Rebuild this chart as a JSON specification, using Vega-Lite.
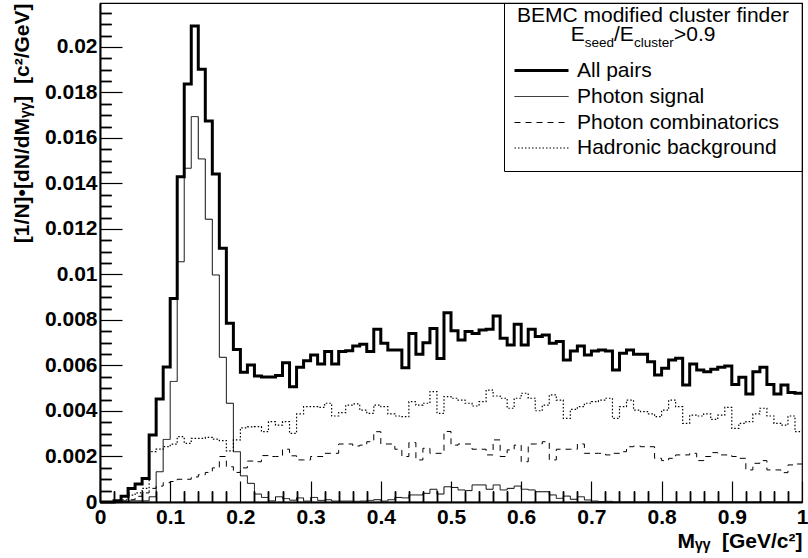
{
  "$schema": "https://vega.github.io/schema/vega-lite/v6.json",
  "width": 702,
  "height": 499,
  "autosize": "none",
  "padding": {"left": 100, "top": 3, "right": 6, "bottom": 56},
  "background": "white",
  "config": {
    "view": {"stroke": "black", "strokeWidth": 1.2},
    "font": "Liberation Sans"
  },
  "resolve": {"axis": {"x": "independent", "y": "independent"}},
  "datasets": {
    "hist": [
      {"m": 0.00, "All pairs": 0, "Photon signal": 0, "Photon combinatorics": 0, "Hadronic background": 0},
      {"m": 0.01, "All pairs": 0, "Photon signal": 0, "Photon combinatorics": 0, "Hadronic background": 0},
      {"m": 0.02, "All pairs": 0.00005, "Photon signal": 0, "Photon combinatorics": 0, "Hadronic background": 0},
      {"m": 0.03, "All pairs": 0.00025, "Photon signal": 0.00003, "Photon combinatorics": 0.00005, "Hadronic background": 0.0001},
      {"m": 0.04, "All pairs": 0.00059, "Photon signal": 0.00005, "Photon combinatorics": 0.0001, "Hadronic background": 0.0003},
      {"m": 0.05, "All pairs": 0.00079, "Photon signal": 0.00005, "Photon combinatorics": 0.00025, "Hadronic background": 0.0004},
      {"m": 0.06, "All pairs": 0.00103, "Photon signal": 0.00005, "Photon combinatorics": 0.0004, "Hadronic background": 0.0006},
      {"m": 0.07, "All pairs": 0.00295, "Photon signal": 0.00023, "Photon combinatorics": 0.0006, "Hadronic background": 0.00221},
      {"m": 0.08, "All pairs": 0.00453, "Photon signal": 0.00133, "Photon combinatorics": 0.0007, "Hadronic background": 0.00232},
      {"m": 0.09, "All pairs": 0.00593, "Photon signal": 0.00275, "Photon combinatorics": 0.00085, "Hadronic background": 0.00243},
      {"m": 0.10, "All pairs": 0.00894, "Photon signal": 0.0053, "Photon combinatorics": 0.0009, "Hadronic background": 0.00254},
      {"m": 0.11, "All pairs": 0.0143, "Photon signal": 0.01056, "Photon combinatorics": 0.001, "Hadronic background": 0.00287},
      {"m": 0.12, "All pairs": 0.01837, "Photon signal": 0.01467, "Photon combinatorics": 0.001, "Hadronic background": 0.00258},
      {"m": 0.13, "All pairs": 0.02092, "Photon signal": 0.01694, "Photon combinatorics": 0.0011, "Hadronic background": 0.0028},
      {"m": 0.14, "All pairs": 0.01902, "Photon signal": 0.01508, "Photon combinatorics": 0.0012, "Hadronic background": 0.0028},
      {"m": 0.15, "All pairs": 0.01675, "Photon signal": 0.01243, "Photon combinatorics": 0.0013, "Hadronic background": 0.00284},
      {"m": 0.16, "All pairs": 0.01442, "Photon signal": 0.00998, "Photon combinatorics": 0.0015, "Hadronic background": 0.00276},
      {"m": 0.17, "All pairs": 0.01115, "Photon signal": 0.00636, "Photon combinatorics": 0.002, "Hadronic background": 0.0027},
      {"m": 0.18, "All pairs": 0.00786, "Photon signal": 0.00434, "Photon combinatorics": 0.00155, "Hadronic background": 0.00225},
      {"m": 0.19, "All pairs": 0.0067, "Photon signal": 0.00221, "Photon combinatorics": 0.0013, "Hadronic background": 0.00273},
      {"m": 0.20, "All pairs": 0.0057, "Photon signal": 0.00115, "Photon combinatorics": 0.0015, "Hadronic background": 0.00326},
      {"m": 0.21, "All pairs": 0.00602, "Photon signal": 0.00082, "Photon combinatorics": 0.0018, "Hadronic background": 0.0033},
      {"m": 0.22, "All pairs": 0.00554, "Photon signal": 0.00035, "Photon combinatorics": 0.00177, "Hadronic background": 0.00331},
      {"m": 0.23, "All pairs": 0.0055, "Photon signal": 0.0002, "Photon combinatorics": 0.00204, "Hadronic background": 0.00309},
      {"m": 0.24, "All pairs": 0.0055, "Photon signal": 0.00005, "Photon combinatorics": 0.002, "Hadronic background": 0.00353},
      {"m": 0.25, "All pairs": 0.00556, "Photon signal": 0.00023, "Photon combinatorics": 0.002, "Hadronic background": 0.00338},
      {"m": 0.26, "All pairs": 0.00612, "Photon signal": 0.00015, "Photon combinatorics": 0.00232, "Hadronic background": 0.00353},
      {"m": 0.27, "All pairs": 0.00507, "Photon signal": 0.00008, "Photon combinatorics": 0.00203, "Hadronic background": 0.00302},
      {"m": 0.28, "All pairs": 0.00592, "Photon signal": 0.00018, "Photon combinatorics": 0.00185, "Hadronic background": 0.00387},
      {"m": 0.29, "All pairs": 0.00621, "Photon signal": 0.00004, "Photon combinatorics": 0.00185, "Hadronic background": 0.00419},
      {"m": 0.30, "All pairs": 0.00646, "Photon signal": 0.0002, "Photon combinatorics": 0.002, "Hadronic background": 0.00419},
      {"m": 0.31, "All pairs": 0.00607, "Photon signal": 0.00007, "Photon combinatorics": 0.002, "Hadronic background": 0.00416},
      {"m": 0.32, "All pairs": 0.00661, "Photon signal": 0.0001, "Photon combinatorics": 0.00214, "Hadronic background": 0.00434},
      {"m": 0.33, "All pairs": 0.00607, "Photon signal": 0.00004, "Photon combinatorics": 0.00214, "Hadronic background": 0.00378},
      {"m": 0.34, "All pairs": 0.00661, "Photon signal": 0.00004, "Photon combinatorics": 0.00255, "Hadronic background": 0.00393},
      {"m": 0.35, "All pairs": 0.00665, "Photon signal": 0.00004, "Photon combinatorics": 0.00255, "Hadronic background": 0.00426},
      {"m": 0.36, "All pairs": 0.00686, "Photon signal": 0.00003, "Photon combinatorics": 0.00246, "Hadronic background": 0.00431},
      {"m": 0.37, "All pairs": 0.00693, "Photon signal": 0.00004, "Photon combinatorics": 0.0025, "Hadronic background": 0.00404},
      {"m": 0.38, "All pairs": 0.00661, "Photon signal": 0.00007, "Photon combinatorics": 0.00265, "Hadronic background": 0.0039},
      {"m": 0.39, "All pairs": 0.00759, "Photon signal": 0.0001, "Photon combinatorics": 0.00309, "Hadronic background": 0.00426},
      {"m": 0.40, "All pairs": 0.00698, "Photon signal": 0.00004, "Photon combinatorics": 0.00255, "Hadronic background": 0.00419},
      {"m": 0.41, "All pairs": 0.00668, "Photon signal": 0.0001, "Photon combinatorics": 0.00255, "Hadronic background": 0.00387},
      {"m": 0.42, "All pairs": 0.00668, "Photon signal": 0.0002, "Photon combinatorics": 0.00232, "Hadronic background": 0.00378},
      {"m": 0.43, "All pairs": 0.0059, "Photon signal": 0.00018, "Photon combinatorics": 0.002, "Hadronic background": 0.00375},
      {"m": 0.44, "All pairs": 0.00741, "Photon signal": 0.00031, "Photon combinatorics": 0.00261, "Hadronic background": 0.00441},
      {"m": 0.45, "All pairs": 0.0065, "Photon signal": 0.00031, "Photon combinatorics": 0.00185, "Hadronic background": 0.00426},
      {"m": 0.46, "All pairs": 0.007, "Photon signal": 0.00038, "Photon combinatorics": 0.00236, "Hadronic background": 0.00434},
      {"m": 0.47, "All pairs": 0.00763, "Photon signal": 0.00056, "Photon combinatorics": 0.00214, "Hadronic background": 0.00485},
      {"m": 0.48, "All pairs": 0.00631, "Photon signal": 0.00035, "Photon combinatorics": 0.00214, "Hadronic background": 0.0039},
      {"m": 0.49, "All pairs": 0.00832, "Photon signal": 0.00067, "Photon combinatorics": 0.0031, "Hadronic background": 0.00463},
      {"m": 0.50, "All pairs": 0.00753, "Photon signal": 0.00064, "Photon combinatorics": 0.0025, "Hadronic background": 0.00456},
      {"m": 0.51, "All pairs": 0.00712, "Photon signal": 0.00053, "Photon combinatorics": 0.00255, "Hadronic background": 0.00448},
      {"m": 0.52, "All pairs": 0.00749, "Photon signal": 0.0005, "Photon combinatorics": 0.00255, "Hadronic background": 0.00434},
      {"m": 0.53, "All pairs": 0.00741, "Photon signal": 0.00075, "Photon combinatorics": 0.00232, "Hadronic background": 0.00422},
      {"m": 0.54, "All pairs": 0.00756, "Photon signal": 0.00075, "Photon combinatorics": 0.00232, "Hadronic background": 0.00441},
      {"m": 0.55, "All pairs": 0.00759, "Photon signal": 0.00056, "Photon combinatorics": 0.00207, "Hadronic background": 0.00492},
      {"m": 0.56, "All pairs": 0.00818, "Photon signal": 0.00075, "Photon combinatorics": 0.00273, "Hadronic background": 0.00466},
      {"m": 0.57, "All pairs": 0.0072, "Photon signal": 0.00053, "Photon combinatorics": 0.002, "Hadronic background": 0.00456},
      {"m": 0.58, "All pairs": 0.0069, "Photon signal": 0.0006, "Photon combinatorics": 0.00229, "Hadronic background": 0.00412},
      {"m": 0.59, "All pairs": 0.00781, "Photon signal": 0.0007, "Photon combinatorics": 0.0025, "Hadronic background": 0.00456},
      {"m": 0.60, "All pairs": 0.0069, "Photon signal": 0.00056, "Photon combinatorics": 0.00177, "Hadronic background": 0.00478},
      {"m": 0.61, "All pairs": 0.00759, "Photon signal": 0.00053, "Photon combinatorics": 0.00255, "Hadronic background": 0.00456},
      {"m": 0.62, "All pairs": 0.00727, "Photon signal": 0.00045, "Photon combinatorics": 0.00255, "Hadronic background": 0.00401},
      {"m": 0.63, "All pairs": 0.00734, "Photon signal": 0.00045, "Photon combinatorics": 0.00265, "Hadronic background": 0.00426},
      {"m": 0.64, "All pairs": 0.00698, "Photon signal": 0.00031, "Photon combinatorics": 0.00185, "Hadronic background": 0.00471},
      {"m": 0.65, "All pairs": 0.00705, "Photon signal": 0.00016, "Photon combinatorics": 0.00232, "Hadronic background": 0.00448},
      {"m": 0.66, "All pairs": 0.00624, "Photon signal": 0.00026, "Photon combinatorics": 0.00232, "Hadronic background": 0.00368},
      {"m": 0.67, "All pairs": 0.00664, "Photon signal": 0.00012, "Photon combinatorics": 0.00232, "Hadronic background": 0.00407},
      {"m": 0.68, "All pairs": 0.00686, "Photon signal": 0.00023, "Photon combinatorics": 0.00255, "Hadronic background": 0.00419},
      {"m": 0.69, "All pairs": 0.00646, "Photon signal": 0.00009, "Photon combinatorics": 0.00214, "Hadronic background": 0.00434},
      {"m": 0.70, "All pairs": 0.00664, "Photon signal": 0.00004, "Photon combinatorics": 0.00214, "Hadronic background": 0.00441},
      {"m": 0.71, "All pairs": 0.00668, "Photon signal": 0.00002, "Photon combinatorics": 0.00214, "Hadronic background": 0.00448},
      {"m": 0.72, "All pairs": 0.00664, "Photon signal": 0.00003, "Photon combinatorics": 0.00207, "Hadronic background": 0.00456},
      {"m": 0.73, "All pairs": 0.0058, "Photon signal": 0, "Photon combinatorics": 0.00214, "Hadronic background": 0.00368},
      {"m": 0.74, "All pairs": 0.00654, "Photon signal": 0, "Photon combinatorics": 0.00221, "Hadronic background": 0.00419},
      {"m": 0.75, "All pairs": 0.00668, "Photon signal": 0, "Photon combinatorics": 0.00243, "Hadronic background": 0.00448},
      {"m": 0.76, "All pairs": 0.0065, "Photon signal": 0, "Photon combinatorics": 0.00246, "Hadronic background": 0.00404},
      {"m": 0.77, "All pairs": 0.0065, "Photon signal": 0, "Photon combinatorics": 0.00243, "Hadronic background": 0.00397},
      {"m": 0.78, "All pairs": 0.00617, "Photon signal": 0, "Photon combinatorics": 0.00243, "Hadronic background": 0.00387},
      {"m": 0.79, "All pairs": 0.00558, "Photon signal": 0, "Photon combinatorics": 0.00192, "Hadronic background": 0.00375},
      {"m": 0.80, "All pairs": 0.00588, "Photon signal": 0, "Photon combinatorics": 0.00182, "Hadronic background": 0.00404},
      {"m": 0.81, "All pairs": 0.00624, "Photon signal": 0, "Photon combinatorics": 0.00192, "Hadronic background": 0.00448},
      {"m": 0.82, "All pairs": 0.00632, "Photon signal": 0, "Photon combinatorics": 0.00207, "Hadronic background": 0.00419},
      {"m": 0.83, "All pairs": 0.00514, "Photon signal": 0, "Photon combinatorics": 0.00207, "Hadronic background": 0.00346},
      {"m": 0.84, "All pairs": 0.00607, "Photon signal": 0, "Photon combinatorics": 0.00214, "Hadronic background": 0.00382},
      {"m": 0.85, "All pairs": 0.0058, "Photon signal": 0, "Photon combinatorics": 0.00182, "Hadronic background": 0.00378},
      {"m": 0.86, "All pairs": 0.00573, "Photon signal": 0, "Photon combinatorics": 0.002, "Hadronic background": 0.00387},
      {"m": 0.87, "All pairs": 0.00583, "Photon signal": 0, "Photon combinatorics": 0.00217, "Hadronic background": 0.00363},
      {"m": 0.88, "All pairs": 0.00592, "Photon signal": 0, "Photon combinatorics": 0.00207, "Hadronic background": 0.00382},
      {"m": 0.89, "All pairs": 0.00598, "Photon signal": 0, "Photon combinatorics": 0.00207, "Hadronic background": 0.00416},
      {"m": 0.90, "All pairs": 0.00517, "Photon signal": 0, "Photon combinatorics": 0.002, "Hadronic background": 0.00324},
      {"m": 0.91, "All pairs": 0.00548, "Photon signal": 0, "Photon combinatorics": 0.00192, "Hadronic background": 0.00346},
      {"m": 0.92, "All pairs": 0.00475, "Photon signal": 0, "Photon combinatorics": 0.00141, "Hadronic background": 0.00353},
      {"m": 0.93, "All pairs": 0.00573, "Photon signal": 0, "Photon combinatorics": 0.0017, "Hadronic background": 0.00387},
      {"m": 0.94, "All pairs": 0.00592, "Photon signal": 0, "Photon combinatorics": 0.00182, "Hadronic background": 0.00412},
      {"m": 0.95, "All pairs": 0.00517, "Photon signal": 0, "Photon combinatorics": 0.00141, "Hadronic background": 0.00378},
      {"m": 0.96, "All pairs": 0.00475, "Photon signal": 0, "Photon combinatorics": 0.00141, "Hadronic background": 0.00346},
      {"m": 0.97, "All pairs": 0.00514, "Photon signal": 0, "Photon combinatorics": 0.00129, "Hadronic background": 0.00338},
      {"m": 0.98, "All pairs": 0.00481, "Photon signal": 0, "Photon combinatorics": 0.00163, "Hadronic background": 0.00378},
      {"m": 0.99, "All pairs": 0.00478, "Photon signal": 0, "Photon combinatorics": 0.00167, "Hadronic background": 0.00309},
      {"m": 1.00, "All pairs": 0.00478, "Photon signal": 0, "Photon combinatorics": 0.00167, "Hadronic background": 0.00309}
    ]
  },
  "layer": [
    {
      "data": {"name": "hist"},
      "transform": [
        {"fold": ["All pairs", "Photon signal", "Photon combinatorics", "Hadronic background"], "as": ["series", "value"]}
      ],
      "mark": {"type": "line", "interpolate": "step-after", "color": "black"},
      "encoding": {
        "x": {
          "field": "m", "type": "quantitative",
          "scale": {"domain": [0, 1], "nice": false, "zero": false},
          "axis": {
            "orient": "bottom",
            "values": [0, 0.1, 0.2, 0.3, 0.4, 0.5, 0.6, 0.7, 0.8, 0.9, 1],
            "format": "~g", "grid": false, "labelFlush": false, "labelOverlap": false,
            "tickSize": -21, "tickWidth": 1.2, "tickColor": "black",
            "domainColor": "black", "domainWidth": 2,
            "labelFont": "Liberation Sans", "labelFontWeight": "bold", "labelFontSize": 21, "labelColor": "black", "labelPadding": 25,
            "title": "Mᵧᵧ\u00a0\u00a0[GeV/c²]", "titleFont": "Liberation Sans", "titleFontWeight": "bold", "titleFontSize": 21, "titleColor": "black",
            "titleAnchor": "end", "titlePadding": 3
          }
        },
        "y": {
          "field": "value", "type": "quantitative",
          "scale": {"domain": [0, 0.021934], "nice": false, "zero": true},
          "axis": {
            "orient": "left",
            "values": [0, 0.002, 0.004, 0.006, 0.008, 0.01, 0.012, 0.014, 0.016, 0.018, 0.02],
            "format": "~g", "grid": false, "labelOverlap": false,
            "tickSize": -22, "tickWidth": 1.2, "tickColor": "black",
            "domainColor": "black", "domainWidth": 2,
            "labelFont": "Liberation Sans", "labelFontWeight": "bold", "labelFontSize": 21, "labelColor": "black", "labelPadding": 25,
            "title": "[1/N]•[dN/dMᵧᵧ]\u00a0\u00a0[c²/GeV]", "titleFont": "Liberation Sans", "titleFontWeight": "bold", "titleFontSize": 21, "titleColor": "black",
            "titleAnchor": "end", "titlePadding": 12
          }
        },
        "strokeDash": {
          "field": "series", "type": "nominal",
          "scale": {"domain": ["All pairs", "Photon signal", "Photon combinatorics", "Hadronic background"], "range": [[1, 0], [1, 0], [6, 5], [1.5, 2]]},
          "legend": {
            "title": "BEMC modified cluster finder", "orient": "top-right", "offset": 0, "padding": 13,
            "strokeColor": "black",
            "titleFont": "Liberation Sans", "titleFontSize": 21, "titleFontWeight": "normal", "titleColor": "black", "titleBaseline": "middle", "titlePadding": 22, "titleLimit": 400,
            "labelFont": "Liberation Sans", "labelFontSize": 21, "labelColor": "black", "labelOffset": 37, "labelLimit": 400,
            "symbolType": "M-1.4,0H4", "symbolSize": 400, "symbolStrokeColor": "black", "symbolFillColor": "transparent", "rowPadding": 4
          }
        },
        "strokeWidth": {
          "field": "series", "type": "nominal",
          "scale": {"type": "ordinal", "domain": ["All pairs", "Photon signal", "Photon combinatorics", "Hadronic background"], "range": [3, 1, 1, 1.2]},
          "legend": {
            "title": "BEMC modified cluster finder", "orient": "top-right", "offset": 0, "padding": 13,
            "strokeColor": "black",
            "titleFont": "Liberation Sans", "titleFontSize": 21, "titleFontWeight": "normal", "titleColor": "black", "titleBaseline": "middle", "titlePadding": 22, "titleLimit": 400,
            "labelFont": "Liberation Sans", "labelFontSize": 21, "labelColor": "black", "labelOffset": 37, "labelLimit": 400,
            "symbolType": "M-1.4,0H4", "symbolSize": 400, "symbolStrokeColor": "black", "symbolFillColor": "transparent", "rowPadding": 4
          }
        }
      }
    },
    {
      "data": {"values": [{}]},
      "mark": {"type": "text", "text": "E", "align": "left", "baseline": "alphabetic", "font": "Liberation Sans", "fontSize": 21, "color": "black"},
      "encoding": {
        "x": {"datum": 0.6705, "type": "quantitative", "axis": {"orient": "bottom", "values": [0.02, 0.04, 0.06, 0.08, 0.12, 0.14, 0.16, 0.18, 0.22, 0.24, 0.26, 0.28, 0.32, 0.34, 0.36, 0.38, 0.42, 0.44, 0.46, 0.48, 0.52, 0.54, 0.56, 0.58, 0.62, 0.64, 0.66, 0.68, 0.72, 0.74, 0.76, 0.78, 0.82, 0.84, 0.86, 0.88, 0.92, 0.94, 0.96, 0.98], "labels": false, "domain": false, "grid": false, "title": null, "tickSize": -11, "tickWidth": 1.2, "tickColor": "black"}},
        "y": {"datum": 0.02027, "type": "quantitative", "axis": {"orient": "left", "values": [0.0005, 0.001, 0.0015, 0.0025, 0.003, 0.0035, 0.0045, 0.005, 0.0055, 0.0065, 0.007, 0.0075, 0.0085, 0.009, 0.0095, 0.0105, 0.011, 0.0115, 0.0125, 0.013, 0.0135, 0.0145, 0.015, 0.0155, 0.0165, 0.017, 0.0175, 0.0185, 0.019, 0.0195, 0.0205, 0.021, 0.0215], "labels": false, "domain": false, "grid": false, "title": null, "tickSize": -11, "tickWidth": 1.2, "tickColor": "black"}}
      }
    },
    {
      "data": {"values": [{}]},
      "mark": {"type": "text", "text": "seed", "align": "left", "baseline": "alphabetic", "font": "Liberation Sans", "fontSize": 13.5, "color": "black"},
      "encoding": {
        "x": {"datum": 0.6905, "type": "quantitative", "axis": {"orient": "bottom", "values": [0.02, 0.04, 0.06, 0.08, 0.12, 0.14, 0.16, 0.18, 0.22, 0.24, 0.26, 0.28, 0.32, 0.34, 0.36, 0.38, 0.42, 0.44, 0.46, 0.48, 0.52, 0.54, 0.56, 0.58, 0.62, 0.64, 0.66, 0.68, 0.72, 0.74, 0.76, 0.78, 0.82, 0.84, 0.86, 0.88, 0.92, 0.94, 0.96, 0.98], "labels": false, "domain": false, "grid": false, "title": null, "tickSize": -11, "tickWidth": 1.2, "tickColor": "black"}},
        "y": {"datum": 0.02, "type": "quantitative", "axis": {"orient": "left", "values": [0.0005, 0.001, 0.0015, 0.0025, 0.003, 0.0035, 0.0045, 0.005, 0.0055, 0.0065, 0.007, 0.0075, 0.0085, 0.009, 0.0095, 0.0105, 0.011, 0.0115, 0.0125, 0.013, 0.0135, 0.0145, 0.015, 0.0155, 0.0165, 0.017, 0.0175, 0.0185, 0.019, 0.0195, 0.0205, 0.021, 0.0215], "labels": false, "domain": false, "grid": false, "title": null, "tickSize": -11, "tickWidth": 1.2, "tickColor": "black"}}
      }
    },
    {
      "data": {"values": [{}]},
      "mark": {"type": "text", "text": "/E", "align": "left", "baseline": "alphabetic", "font": "Liberation Sans", "fontSize": 21, "color": "black"},
      "encoding": {
        "x": {"datum": 0.7322, "type": "quantitative", "axis": {"orient": "bottom", "values": [0.02, 0.04, 0.06, 0.08, 0.12, 0.14, 0.16, 0.18, 0.22, 0.24, 0.26, 0.28, 0.32, 0.34, 0.36, 0.38, 0.42, 0.44, 0.46, 0.48, 0.52, 0.54, 0.56, 0.58, 0.62, 0.64, 0.66, 0.68, 0.72, 0.74, 0.76, 0.78, 0.82, 0.84, 0.86, 0.88, 0.92, 0.94, 0.96, 0.98], "labels": false, "domain": false, "grid": false, "title": null, "tickSize": -11, "tickWidth": 1.2, "tickColor": "black"}},
        "y": {"datum": 0.02027, "type": "quantitative", "axis": {"orient": "left", "values": [0.0005, 0.001, 0.0015, 0.0025, 0.003, 0.0035, 0.0045, 0.005, 0.0055, 0.0065, 0.007, 0.0075, 0.0085, 0.009, 0.0095, 0.0105, 0.011, 0.0115, 0.0125, 0.013, 0.0135, 0.0145, 0.015, 0.0155, 0.0165, 0.017, 0.0175, 0.0185, 0.019, 0.0195, 0.0205, 0.021, 0.0215], "labels": false, "domain": false, "grid": false, "title": null, "tickSize": -11, "tickWidth": 1.2, "tickColor": "black"}}
      }
    },
    {
      "data": {"values": [{}]},
      "mark": {"type": "text", "text": "cluster", "align": "left", "baseline": "alphabetic", "font": "Liberation Sans", "fontSize": 13.5, "color": "black"},
      "encoding": {
        "x": {"datum": 0.7607, "type": "quantitative", "axis": {"orient": "bottom", "values": [0.02, 0.04, 0.06, 0.08, 0.12, 0.14, 0.16, 0.18, 0.22, 0.24, 0.26, 0.28, 0.32, 0.34, 0.36, 0.38, 0.42, 0.44, 0.46, 0.48, 0.52, 0.54, 0.56, 0.58, 0.62, 0.64, 0.66, 0.68, 0.72, 0.74, 0.76, 0.78, 0.82, 0.84, 0.86, 0.88, 0.92, 0.94, 0.96, 0.98], "labels": false, "domain": false, "grid": false, "title": null, "tickSize": -11, "tickWidth": 1.2, "tickColor": "black"}},
        "y": {"datum": 0.02, "type": "quantitative", "axis": {"orient": "left", "values": [0.0005, 0.001, 0.0015, 0.0025, 0.003, 0.0035, 0.0045, 0.005, 0.0055, 0.0065, 0.007, 0.0075, 0.0085, 0.009, 0.0095, 0.0105, 0.011, 0.0115, 0.0125, 0.013, 0.0135, 0.0145, 0.015, 0.0155, 0.0165, 0.017, 0.0175, 0.0185, 0.019, 0.0195, 0.0205, 0.021, 0.0215], "labels": false, "domain": false, "grid": false, "title": null, "tickSize": -11, "tickWidth": 1.2, "tickColor": "black"}}
      }
    },
    {
      "data": {"values": [{}]},
      "mark": {"type": "text", "text": ">0.9", "align": "left", "baseline": "alphabetic", "font": "Liberation Sans", "fontSize": 21, "color": "black"},
      "encoding": {
        "x": {"datum": 0.8177, "type": "quantitative", "axis": {"orient": "bottom", "values": [0.02, 0.04, 0.06, 0.08, 0.12, 0.14, 0.16, 0.18, 0.22, 0.24, 0.26, 0.28, 0.32, 0.34, 0.36, 0.38, 0.42, 0.44, 0.46, 0.48, 0.52, 0.54, 0.56, 0.58, 0.62, 0.64, 0.66, 0.68, 0.72, 0.74, 0.76, 0.78, 0.82, 0.84, 0.86, 0.88, 0.92, 0.94, 0.96, 0.98], "labels": false, "domain": false, "grid": false, "title": null, "tickSize": -11, "tickWidth": 1.2, "tickColor": "black"}},
        "y": {"datum": 0.02027, "type": "quantitative", "axis": {"orient": "left", "values": [0.0005, 0.001, 0.0015, 0.0025, 0.003, 0.0035, 0.0045, 0.005, 0.0055, 0.0065, 0.007, 0.0075, 0.0085, 0.009, 0.0095, 0.0105, 0.011, 0.0115, 0.0125, 0.013, 0.0135, 0.0145, 0.015, 0.0155, 0.0165, 0.017, 0.0175, 0.0185, 0.019, 0.0195, 0.0205, 0.021, 0.0215], "labels": false, "domain": false, "grid": false, "title": null, "tickSize": -11, "tickWidth": 1.2, "tickColor": "black"}}
      }
    }
  ]
}
